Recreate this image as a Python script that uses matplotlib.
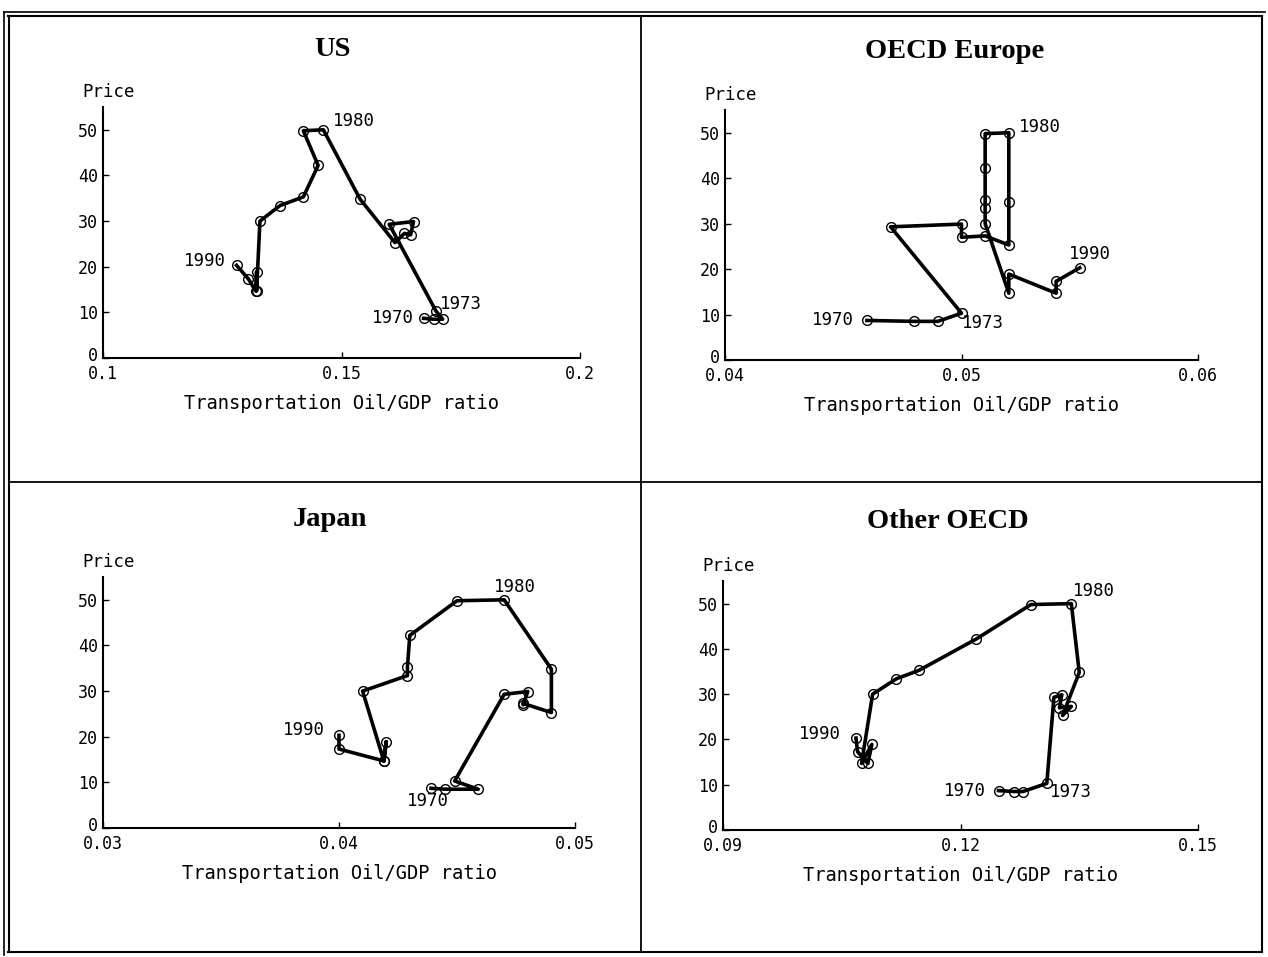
import matplotlib
matplotlib.use("Agg")
import matplotlib.pyplot as plt
from matplotlib.lines import Line2D
from matplotlib.transforms import ScaledTranslation

# data: years 1970..1990, oil price and transport oil/GDP ratio per region
years = list(range(1970, 1991))
price = [8.7, 8.5, 8.5, 10.3, 29.3, 29.9, 27.0, 27.3, 25.3, 34.8, 50.0,
         49.8, 42.2, 35.3, 33.4, 30.0, 14.7, 18.9, 14.7, 17.3, 20.3]
us_x = [0.1672, 0.1693, 0.1712, 0.1698, 0.1600, 0.1651, 0.1645, 0.1632, 0.1612, 0.1539, 0.1462,
        0.1420, 0.1451, 0.1420, 0.1371, 0.1329, 0.1322, 0.1322, 0.1320, 0.1305, 0.1280]
eu_x = [0.0460, 0.0480, 0.0490, 0.0500, 0.0470, 0.0500, 0.0500, 0.0510, 0.0520, 0.0520, 0.0520,
        0.0510, 0.0510, 0.0510, 0.0510, 0.0510, 0.0520, 0.0520, 0.0540, 0.0540, 0.0550]
jp_x = [0.0439, 0.0445, 0.0459, 0.0449, 0.0470, 0.0480, 0.0478, 0.0478, 0.0490, 0.0490, 0.0470,
        0.0450, 0.0430, 0.0429, 0.0429, 0.0410, 0.0419, 0.0420, 0.0419, 0.0400, 0.0400]
ot_x = [0.1248, 0.1268, 0.1279, 0.1309, 0.1318, 0.1328, 0.1325, 0.1340, 0.1329, 0.1350, 0.1340,
        0.1289, 0.1220, 0.1148, 0.1119, 0.1089, 0.1075, 0.1088, 0.1083, 0.1070, 0.1068]

titles = ["US", "OECD Europe", "Japan", "Other OECD"]
xdata = [us_x, eu_x, jp_x, ot_x]
xticks = [[0.1, 0.15, 0.2], [0.04, 0.05, 0.06], [0.03, 0.04, 0.05], [0.09, 0.12, 0.15]]
xticklabels = [["0.1", "0.15", "0.2"], ["0.04", "0.05", "0.06"],
               ["0.03", "0.04", "0.05"], ["0.09", "0.12", "0.15"]]
yticks = [0, 10, 20, 30, 40, 50]

# layout (pixels in a 1268x957 image): left, right, bottom, top of axes; title pos
W, H = 1268, 957
boxes = [(103, 580, 358, 107), (725, 1198, 360, 110), (103, 575, 828, 577), (723, 1198, 830, 581)]
title_pos = [(333, 50), (955, 52), (330, 520), (948, 522)]
# year labels: (year, dx pt, dy pt, ha, va)
year_lbls = [
    [(1980, 7, 6, "left", "center"), (1990, -8, 3, "right", "center"),
     (1970, -7, 0, "right", "center"), (1973, 3, 5, "left", "center")],
    [(1980, 7, 4, "left", "center"), (1990, 7, 10, "center", "center"),
     (1970, -9, 0, "right", "center"), (1973, 0, -7, "left", "center")],
    [(1980, 8, 9, "center", "center"), (1990, -10, 4, "right", "center"),
     (1970, -2, -9, "center", "center")],
    [(1980, 1, 9, "left", "center"), (1990, -11, 3, "right", "center"),
     (1970, -9, 0, "right", "center"), (1973, 2, -6, "left", "center")],
]

mono = "DejaVu Sans Mono"
fig = plt.figure(figsize=(W / 100, H / 100), dpi=100)

for i in range(4):
    l, r, b, t = boxes[i]
    ax = fig.add_axes([l / W, 1 - b / H, (r - l) / W, (b - t) / H])
    ax.plot(xdata[i], price, color="black", lw=2.6, marker="o", ms=7,
            mfc="none", mec="black", mew=1.0, zorder=3)
    ax.set_xlim(xticks[i][0], xticks[i][-1])
    ax.set_ylim(0, 55)
    ax.set_xticks(xticks[i])
    ax.set_xticklabels(xticklabels[i], family=mono, fontsize=12)
    ax.set_yticks(yticks)
    ax.set_yticklabels([str(v) for v in yticks], family=mono, fontsize=12)
    ax.tick_params(direction="in", length=4, width=1)
    ax.tick_params(axis="x", pad=5)
    # the "0" of the y axis sits just above the first x tick label
    zero = ax.get_yticklabels()[0]
    zero.set_transform(zero.get_transform() + ScaledTranslation(0, 3 / 72, fig.dpi_scale_trans))
    for s in ["top", "right"]:
        ax.spines[s].set_visible(False)
    for s in ["left", "bottom"]:
        ax.spines[s].set_linewidth(1.5)
    ax.set_xlabel("Transportation Oil/GDP ratio", family=mono, fontsize=13.5, labelpad=8)
    ax.annotate("Price", xy=(0, 1), xycoords="axes fraction", xytext=(-15, 11),
                textcoords="offset points", ha="left", va="center", family=mono, fontsize=12.5)
    for yr, dx, dy, ha, va in year_lbls[i]:
        k = years.index(yr)
        ax.annotate(str(yr), xy=(xdata[i][k], price[k]), xytext=(dx, dy),
                    textcoords="offset points", ha=ha, va=va, family=mono, fontsize=12.5)
    fig.text(title_pos[i][0] / W, 1 - title_pos[i][1] / H, titles[i], ha="center", va="center",
             family="Liberation Serif", fontsize=20.5, weight="bold")

# panel frame
def hline(y, x0, x1, lw):
    fig.add_artist(Line2D([x0 / W, x1 / W], [1 - y / H, 1 - y / H], color="black", lw=lw))

def vline(x, y0, y1, lw):
    fig.add_artist(Line2D([x / W, x / W], [1 - y0 / H, 1 - y1 / H], color="black", lw=lw))

hline(12, 4, 1265, 1.2)
hline(16, 8, 1262, 1.5)
hline(952, 8, 1262, 1.5)
hline(482, 10, 1262, 1.3)
vline(4, 12, 955, 1.2)
vline(9, 16, 952, 1.5)
vline(1262, 16, 952, 1.5)
vline(641, 16, 952, 1.3)

fig.savefig("out.png", dpi=100)
